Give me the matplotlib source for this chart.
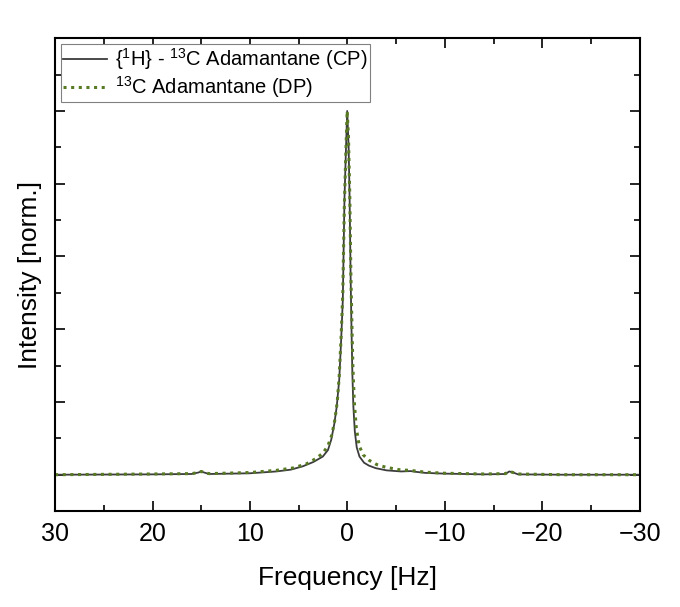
import matplotlib
matplotlib.use("Agg")
import matplotlib.pyplot as plt
from matplotlib.ticker import MultipleLocator

# CP spectrum: frequency [Hz], normalised intensity
cp_freq = [30, 20, 16, 15.3, 15.0, 14.7, 14.2, 10, 7.3, 5.8, 4.6, 3.5, 2.53, 2.0,
           1.67, 1.35, 1.1, 0.85, 0.65, 0.48, 0.31, 0.15, 0.03, -0.12, -0.22,
           -0.32, -0.4, -0.5, -0.6, -0.75, -0.95, -1.23, -1.7, -2.2, -2.9, -4,
           -5.5, -6.5, -7.0, -8, -10, -14, -16.2, -16.6, -17.0, -17.5, -22, -30]
cp_int = [0.0, 0.001, 0.002, 0.006, 0.009, 0.006, 0.002, 0.004, 0.009, 0.014,
          0.023, 0.035, 0.05, 0.068, 0.096, 0.14, 0.188, 0.26, 0.37, 0.48, 0.757,
          0.9, 1.0, 0.9, 0.757, 0.55, 0.42, 0.28, 0.19, 0.12, 0.075, 0.05, 0.033,
          0.025, 0.018, 0.012, 0.009, 0.010, 0.008, 0.005, 0.003, 0.001, 0.002,
          0.009, 0.006, 0.001, 0.0, 0.0]

# DP spectrum
dp_freq = [30, 20, 16, 15.3, 15.0, 14.7, 14.2, 10, 7.3, 5.5, 4.2, 3.2, 2.5, 2.0,
           1.6, 1.3, 1.05, 0.85, 0.65, 0.48, 0.32, 0.15, 0.03, -0.1, -0.24,
           -0.35, -0.45, -0.55, -0.7, -0.9, -1.2, -1.6, -2.2, -3, -4, -5.5, -6.5,
           -7, -8, -10, -14, -16.2, -16.6, -17.0, -17.5, -22, -30]
dp_int = [0.0, 0.002, 0.003, 0.006, 0.009, 0.006, 0.003, 0.006, 0.012, 0.019,
          0.03, 0.045, 0.06, 0.08, 0.11, 0.15, 0.2, 0.27, 0.38, 0.5, 0.74, 0.9,
          1.0, 0.93, 0.76, 0.55, 0.42, 0.3, 0.2, 0.13, 0.08, 0.055, 0.04, 0.028,
          0.02, 0.013, 0.012, 0.01, 0.007, 0.004, 0.002, 0.003, 0.009, 0.006,
          0.002, 0.0, 0.0]

plt.rcParams.update({
    'font.family': 'Liberation Sans',
    'mathtext.fontset': 'custom',
    'mathtext.rm': 'Liberation Sans',
    'mathtext.it': 'Liberation Sans:italic',
    'mathtext.bf': 'Liberation Sans:bold',
    'xtick.direction': 'in',
    'ytick.direction': 'in',
})

fig = plt.figure(figsize=(6.8, 6.07), dpi=100)
ax = fig.add_axes([0.081, 0.158, 0.86, 0.779])

ax.plot(cp_freq, cp_int, color='#3c3c3c', lw=1.3,
        label=r'{$^{1}$H} - $^{13}$C Adamantane (CP)')
ax.plot(dp_freq, dp_int, color='#587a22', lw=2.2, linestyle=(0, (1, 1.5)),
        label=r'$^{13}$C Adamantane (DP)')

ax.set_xlim(30, -30)
ax.set_ylim(-0.1, 1.2)
ax.xaxis.set_major_locator(MultipleLocator(10))
ax.xaxis.set_minor_locator(MultipleLocator(5))
ax.yaxis.set_major_locator(MultipleLocator(0.2))
ax.yaxis.set_minor_locator(MultipleLocator(0.1))
ax.tick_params(which='both', top=True, right=True, width=1.2)
ax.tick_params(which='major', length=7, labelsize=18, pad=8)
ax.tick_params(which='minor', length=4)
ax.tick_params(axis='y', labelleft=False)
for s in ax.spines.values():
    s.set_linewidth(1.5)

ax.set_xlabel('Frequency [Hz]', fontsize=19, labelpad=14)
ax.set_ylabel('Intensity [norm.]', fontsize=19, labelpad=6)

leg = ax.legend(loc='upper left', fontsize=14.5, fancybox=False, framealpha=1,
                edgecolor='#808080', handlelength=2.2, borderaxespad=0.3,
                borderpad=0.1, labelspacing=0.1, handletextpad=0.4)
leg.get_frame().set_linewidth(0.8)

fig.savefig('out.png', dpi=100)
